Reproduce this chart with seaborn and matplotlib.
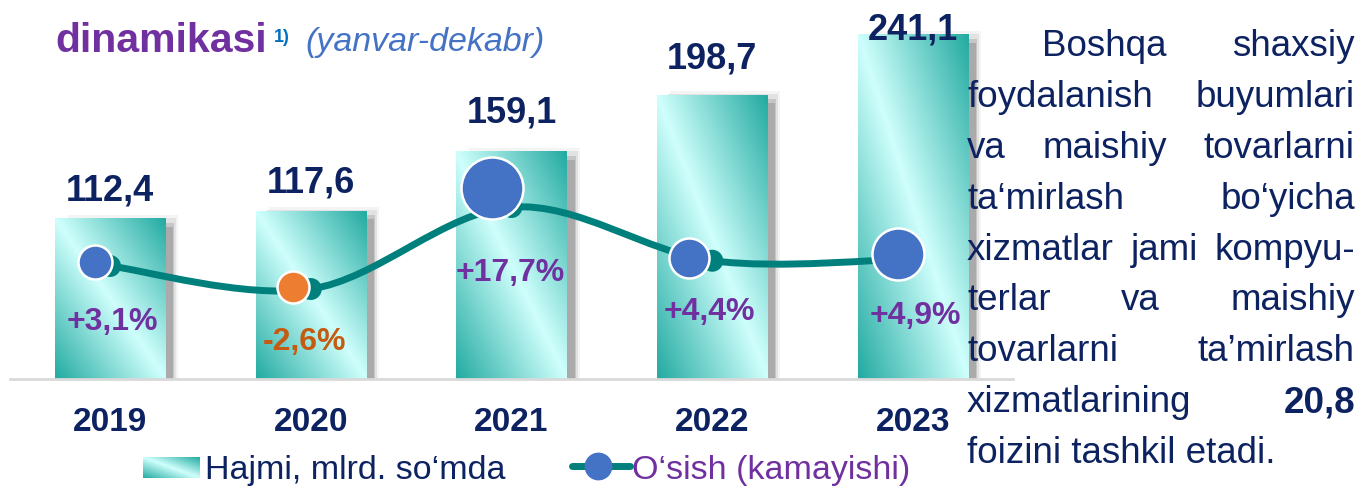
import numpy as np
import matplotlib
matplotlib.use('Agg')
import matplotlib.pyplot as plt
import matplotlib.transforms as mtransforms
from matplotlib.colors import LinearSegmentedColormap
from matplotlib.patches import Rectangle, PathPatch
from matplotlib.path import Path
from matplotlib.lines import Line2D
import seaborn as sns

# Ma'lumotlar
years = ['2019', '2020', '2021', '2022', '2023']
volume = [112.4, 117.6, 159.1, 198.7, 241.1]
growth = [3.1, -2.6, 17.7, 4.4, 4.9]
volume_labels = ['112,4', '117,6', '159,1', '198,7', '241,1']
growth_labels = ['+3,1%', '-2,6%', '+17,7%', '+4,4%', '+4,9%']

legend_bar = 'Hajmi, mlrd. so‘mda'
legend_line = 'O‘sish (kamayishi)'
title_main = 'dinamikasi'
title_note = '1)'
title_period = '(yanvar-dekabr)'

para_lines = ['Boshqa shaxsiy',
              'foydalanish buyumlari',
              'va maishiy tovarlarni',
              'ta‘mirlash bo‘yicha',
              'xizmatlar jami kompyu-',
              'terlar va maishiy',
              'tovarlarni ta’mirlash',
              'xizmatlarining 20,8',
              'foizini tashkil etadi.']
para_bold = ['20,8']

# ranglar
NAVY = '#0d2260'
PURPLE = '#7030a0'
TEAL = '#00807c'
BLUE = '#4472c4'
ORANGE = '#ed7d31'

sns.set_style('white')
plt.rcParams['font.family'] = ['Liberation Sans', 'DejaVu Sans']

W, H = 1360, 488
fig = plt.figure(figsize=(W / 100, H / 100), dpi=100)

def fx(x):
    return x / W

def fy(y):
    return 1 - y / H

# asosiy o'q (ustunlar)
L, R, B = 9.6, 1013.4, 379
ax = fig.add_axes([fx(L), fy(B), (R - L) / W, B / H])
ax2 = ax.twinx()

sns.barplot(x=years, y=volume, color='#2aaea5', width=0.548, ax=ax, zorder=3)

xs = (R - L) / 5          # px per category
ys = 1.427                # px per unit (bars)
px_x = 1 / xs
px_y = 1 / ys

cmap = LinearSegmentedColormap.from_list('bar', ['#24aba2', '#cffffc', '#24aba2'])
uu, vv = np.meshgrid(np.linspace(0, 1, 80), np.linspace(0, 1, 80))
grad = (uu + vv) / 2

for p in ax.patches:
    x0, y0, w, h = p.get_x(), p.get_y(), p.get_width(), p.get_height()
    p.set_alpha(0)
    # soya
    for dx, top, col in [(13, 4, '#f4f4f4'), (11, 1, '#e2e2e2'), (9, -4, '#c6c6c6'), (8, -8, '#aaaaaa')]:
        ax.add_patch(Rectangle((x0 + dx * px_x, 0), w, h + top * px_y,
                               facecolor=col, edgecolor='none', zorder=1))
    ax.imshow(grad, extent=(x0, x0 + w, 0, h), origin='lower', cmap=cmap,
              aspect='auto', interpolation='bilinear', zorder=2)

ax.set_xlim(-0.5, 4.5)
ax.set_ylim(0, B / ys)

for s in ['top', 'right', 'left']:
    ax.spines[s].set_visible(False)
ax.spines['bottom'].set_color('#d9d9d9')
ax.spines['bottom'].set_linewidth(2)
ax.set_yticks([])
ax.set_xlabel('')
ax.set_ylabel('')
ax.tick_params(axis='x', length=0, pad=20, labelsize=24, labelcolor=NAVY)
for t in ax.get_xticklabels():
    t.set_fontweight('bold')

# qiymatlar ustida
val_gap = [18, 19, 29, 27, -5]
for i, (v, lab) in enumerate(zip(volume, volume_labels)):
    ax.annotate(lab, (i, v), xytext=(0, val_gap[i] * 0.72), textcoords='offset points',
                ha='center', va='baseline', fontsize=26, fontweight='bold',
                color=NAVY, zorder=6)

# o'sish chizig'i
v_top = 3.1 + 266 / 4.04
v_bot = 3.1 - (B - 266) / 4.04
ax2.set_ylim(v_bot, v_top)
ax2.set_xlim(-0.5, 4.5)
ax2.axis('off')

pts = np.column_stack([np.arange(len(growth)), growth]).astype(float)
ext = np.vstack([pts[0], pts, pts[-1]])
verts = [tuple(pts[0])]
codes = [Path.MOVETO]
for k in range(1, len(ext) - 2):
    p0, p1, p2, p3 = ext[k - 1], ext[k], ext[k + 1], ext[k + 2]
    c1 = p1 + (p2 - p0) / 6
    c2 = p2 - (p3 - p1) / 6
    verts += [tuple(c1), tuple(c2), tuple(p2)]
    codes += [Path.CURVE4] * 3
ax2.add_patch(PathPatch(Path(verts, codes), facecolor='none', edgecolor=TEAL,
                        lw=5, capstyle='round', zorder=4))
sns.scatterplot(x=np.arange(len(growth)), y=growth, color=TEAL, s=250,
                edgecolor='none', ax=ax2, zorder=5, legend=False)

mk_dx = [-15, -18, -20, -23, -15]
mk_dy = [-4, -2, -19, -3, -5]
mk_r = [17, 16, 31, 20, 26]
lab_dx = [2, -6, -1, -3, 2]
lab_dy = [64, 61, 74, 59, 65]
for i, g in enumerate(growth):
    col = ORANGE if g < 0 else BLUE
    tr = mtransforms.offset_copy(ax2.transData, fig=fig, x=mk_dx[i] * 0.72,
                                 y=-mk_dy[i] * 0.72, units='points')
    ax2.scatter([i], [g], s=(2 * mk_r[i] * 0.72) ** 2, color=col,
                edgecolor='white', linewidth=1.8, transform=tr, zorder=6)
    ax2.annotate(growth_labels[i], (i, g), xytext=(lab_dx[i] * 0.72, -lab_dy[i] * 0.72),
                 textcoords='offset points', ha='center', va='baseline',
                 fontsize=23, fontweight='bold',
                 color='#c55a11' if g < 0 else PURPLE, zorder=7)

# sarlavha
fig.text(fx(55), fy(52), title_main, fontsize=29.5, fontweight='bold', color=PURPLE)
fig.text(fx(274), fy(42), title_note, fontsize=13, fontweight='bold', color='#0070c0')
fig.text(fx(305), fy(51), title_period, fontsize=24.5, style='italic', color=BLUE)

# legenda
lax = fig.add_axes([fx(143), fy(478), 57 / W, 21 / H])
lax.imshow(grad, origin='lower', cmap=cmap, aspect='auto', interpolation='bilinear')
lax.axis('off')
fig.text(fx(205), fy(479), legend_bar, fontsize=24.5, color=NAVY)
fig.add_artist(Line2D([fx(572), fx(630)], [fy(466), fy(466)], color=TEAL, lw=5,
                      transform=fig.transFigure))
fig.add_artist(Line2D([fx(598)], [fy(466)], marker='o', markersize=19, color=BLUE,
                      markeredgecolor=BLUE, transform=fig.transFigure))
fig.text(fx(632), fy(479), legend_line, fontsize=24.5, color=PURPLE)

# o'ng tomondagi matn (tekislangan)
renderer = fig.canvas.get_renderer()
left, right, indent = 967, 1355, 1042
base0, step = 56, 50.9
for n, line in enumerate(para_lines):
    yb = fy(base0 + n * step)
    if n == len(para_lines) - 1:
        fig.text(fx(left), yb, line, fontsize=26.5, color=NAVY, va='baseline')
        continue
    words = line.split(' ')
    texts = []
    for wd in words:
        texts.append(fig.text(0, yb, wd, fontsize=26.5, color=NAVY, va='baseline',
                              fontweight='bold' if wd in para_bold else 'normal'))
    widths = [t.get_window_extent(renderer).width for t in texts]
    start = indent if n == 0 else left
    gap = (right - start - sum(widths)) / max(len(words) - 1, 1)
    x = start
    for t, wdt in zip(texts, widths):
        t.set_x(fx(x))
        x += wdt + gap

fig.savefig('out.png', dpi=100)
